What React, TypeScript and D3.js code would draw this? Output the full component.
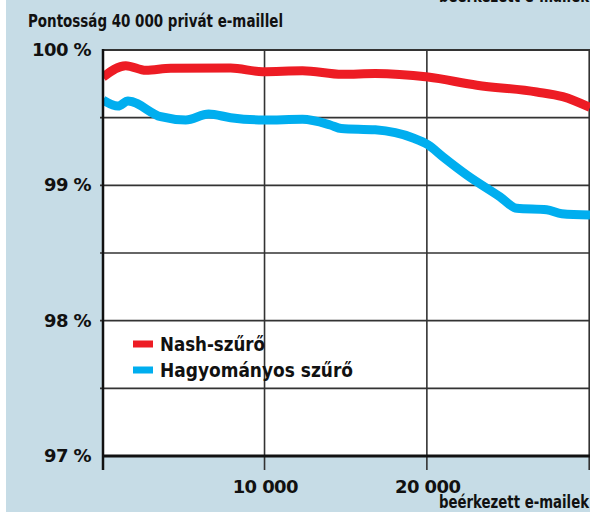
import React, { useEffect, useRef } from 'react';
import * as d3 from 'd3';

// beérkezett e-mailek (x) and accuracy in % (y)
const nashEmails = [0, 1400, 2640, 4180, 7860, 9830, 12285, 14740, 16770, 20020, 23030, 26720, 28320, 30000];
const nashValues = [99.80, 99.884, 99.85, 99.865, 99.867, 99.84, 99.847, 99.82, 99.827, 99.80, 99.74, 99.69, 99.655, 99.575];

const classicEmails = [0, 920, 1540, 3560, 5100, 6510, 7860, 9890, 12285, 14000, 14680, 16770, 19100, 20020, 20950, 22420, 24450, 25490, 27330, 28260, 30000];
const classicValues = [99.63, 99.586, 99.623, 99.507, 99.483, 99.527, 99.50, 99.483, 99.488, 99.446, 99.42, 99.41, 99.35, 99.30, 99.21, 99.076, 98.916, 98.83, 98.82, 98.79, 98.78];

const yTicks = [100, 99, 98, 97];
const yGrid = [99.5, 99, 98.5, 98, 97.5];
const xTicks = [10000, 20000, 30000];
const xLabels = ['10 000', '20 000'];

const legendItems = [
  { name: 'Nash-szűrő', color: '#ed1c24', len: 105 },
  { name: 'Hagyományos szűrő', color: '#00aeef', len: 193 }
];

const W = 590;
const H = 514;
const bold = '"DejaVu Sans", sans-serif';
const narrow = '"DejaVu Sans Condensed", "Liberation Sans Narrow", sans-serif';

export default function App() {
  const ref = useRef<SVGSVGElement>(null);

  useEffect(() => {
    const svg = d3.select(ref.current);
    svg.selectAll('*').remove();

    const left = 103, right = 590, top = 50, bottom = 456;

    const x = d3.scaleLinear().domain([0, 30000]).range([left, right]);
    const y = d3.scaleLinear().domain([97, 100]).range([bottom, top]);

    // background panel
    svg.append('rect').attr('x', 0).attr('y', 0).attr('width', W).attr('height', H).attr('fill', '#fff');
    svg.append('rect').attr('x', 6).attr('y', 0).attr('width', W - 6).attr('height', 512).attr('fill', '#c6dce6');
    svg.append('rect')
      .attr('x', left).attr('y', top)
      .attr('width', right - left).attr('height', bottom - top)
      .attr('fill', '#fff');

    // grid
    svg.append('g').selectAll('line').data(yGrid).enter().append('line')
      .attr('x1', left - 3).attr('x2', right)
      .attr('y1', d => y(d)).attr('y2', d => y(d))
      .attr('stroke', '#333').attr('stroke-width', 1.6);

    svg.append('g').selectAll('line').data(xTicks).enter().append('line')
      .attr('x1', d => x(d) - 0.8).attr('x2', d => x(d) - 0.8)
      .attr('y1', top).attr('y2', bottom + 14)
      .attr('stroke', '#333').attr('stroke-width', 1.6);

    // top frame
    svg.append('line')
      .attr('x1', left).attr('x2', right).attr('y1', top).attr('y2', top)
      .attr('stroke', '#333').attr('stroke-width', 2);

    // lines
    const clip = svg.append('defs').append('clipPath').attr('id', 'plot-clip');
    clip.append('rect').attr('x', left).attr('y', top).attr('width', right - left).attr('height', bottom - top);

    const line = d3.line<[number, number]>()
      .x(d => x(d[0]))
      .y(d => y(d[1]))
      .curve(d3.curveMonotoneX);

    const series = [
      { pts: classicEmails.map((e, i) => [e, classicValues[i]] as [number, number]), color: legendItems[1].color },
      { pts: nashEmails.map((e, i) => [e, nashValues[i]] as [number, number]), color: legendItems[0].color }
    ];

    svg.append('g').attr('clip-path', 'url(#plot-clip)')
      .selectAll('path').data(series).enter().append('path')
      .attr('d', d => line(d.pts))
      .attr('fill', 'none')
      .attr('stroke', d => d.color)
      .attr('stroke-width', 9)
      .attr('stroke-linejoin', 'round');

    // axes
    svg.append('line')
      .attr('x1', left).attr('x2', left).attr('y1', top - 1).attr('y2', bottom + 14)
      .attr('stroke', '#111').attr('stroke-width', 2.5);
    svg.append('line')
      .attr('x1', left).attr('x2', right).attr('y1', bottom).attr('y2', bottom)
      .attr('stroke', '#111').attr('stroke-width', 3);

    // y labels
    svg.append('g').selectAll('text').data(yTicks).enter().append('text')
      .attr('x', 91).attr('y', d => y(d) + 6)
      .attr('text-anchor', 'end')
      .style('font-family', bold).style('font-weight', 'bold')
      .style('font-size', '18px').style('letter-spacing', '-0.6px')
      .attr('fill', '#111')
      .text(d => `${d} %`);

    // x labels
    svg.append('g').selectAll('text').data(xLabels).enter().append('text')
      .attr('x', (d, i) => x(xTicks[i])).attr('y', 493)
      .attr('text-anchor', 'middle')
      .style('font-family', bold).style('font-weight', 'bold')
      .style('font-size', '18px').style('letter-spacing', '-0.6px')
      .attr('fill', '#111')
      .text(d => d);

    // titles
    svg.append('text')
      .attr('x', 28).attr('y', 27)
      .attr('textLength', 255).attr('lengthAdjust', 'spacingAndGlyphs')
      .style('font-family', narrow).style('font-weight', 'bold').style('font-size', '17px')
      .attr('fill', '#111')
      .text('Pontosság 40 000 privát e-maillel');

    [2, 508].forEach(ty => {
      svg.append('text')
        .attr('x', 439).attr('y', ty)
        .attr('textLength', 150).attr('lengthAdjust', 'spacingAndGlyphs')
        .style('font-family', narrow).style('font-weight', 'bold').style('font-size', '17px')
        .attr('fill', '#111')
        .text('beérkezett e-mailek');
    });

    // legend
    const lg = svg.append('g').selectAll('g').data(legendItems).enter().append('g')
      .attr('transform', (d, i) => `translate(133,${344 + i * 26})`);
    lg.append('rect')
      .attr('x', 0).attr('y', -3.5).attr('width', 20).attr('height', 7)
      .attr('fill', d => d.color);
    lg.append('text')
      .attr('x', 27).attr('y', 7)
      .attr('textLength', d => d.len).attr('lengthAdjust', 'spacingAndGlyphs')
      .style('font-family', narrow).style('font-weight', 'bold').style('font-size', '19px')
      .attr('fill', '#111')
      .text(d => d.name);
  }, []);

  return (
    <svg ref={ref} width={W} height={H} style={{ position: 'absolute', left: 0, top: 0 }} />
  );
}
